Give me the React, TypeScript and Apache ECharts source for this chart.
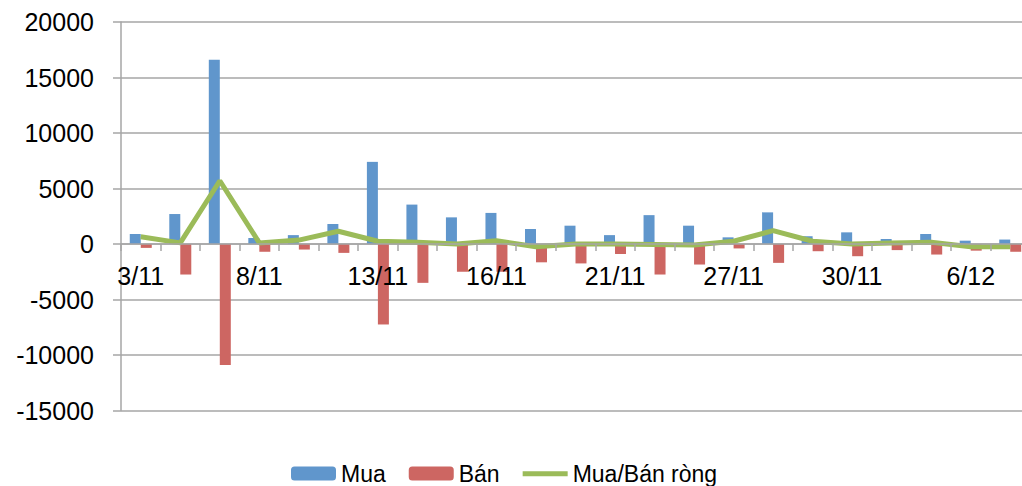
import React, { useEffect, useRef } from "react";
import * as echarts from "echarts";

const categories = ["3/11","6/11","7/11","8/11","9/11","10/11","13/11","14/11","15/11","16/11","17/11","20/11","21/11","22/11","23/11","27/11","28/11","29/11","30/11","1/12","4/12","6/12","7/12"];
const mua = [900, 2700, 16600, 550, 800, 1800, 7400, 3550, 2400, 2800, 1350, 1650, 800, 2600, 1650, 600, 2850, 700, 1050, 450, 900, 300, 400];
const ban = [-350, -2750, -10900, -700, -500, -800, -7250, -3500, -2500, -2500, -1650, -1750, -900, -2750, -1850, -400, -1700, -650, -1100, -550, -950, -600, -700];
const net = [650, 100, 5700, 100, 350, 1150, 250, 150, 0, 300, -250, 0, 0, -50, -100, 250, 1200, 250, 0, 100, 150, -250, -250];
const seriesNames = ["Mua", "Bán", "Mua/Bán ròng"];

const FONT = "'Liberation Sans', Arial, sans-serif";
const GRID = "#A6A6A6";
const LINE_ICON = "path://M0,0L0,0.01M0,4.5L49,4.5L49,10L0,10ZM0,14L0,13.99";

export default function App() {
  const ref = useRef<HTMLDivElement>(null);
  useEffect(() => {
    if (!ref.current) return;
    const chart = echarts.init(ref.current, null, { renderer: "svg" });
    chart.setOption({
      animation: false,
      textStyle: { fontFamily: FONT },
      grid: { left: 121, right: 10, top: 22, bottom: 75.5 },
      legend: {
        left: 286,
        top: 457,
        itemWidth: 45,
        itemHeight: 14,
        itemGap: 23,
        textStyle: { fontSize: 23, color: "#000", fontFamily: FONT },
        data: [
          { name: seriesNames[0] },
          { name: seriesNames[1] },
          { name: seriesNames[2], icon: LINE_ICON, itemStyle: { color: "#9BBB59" } },
        ],
      },
      xAxis: {
        type: "category",
        data: categories,
        position: "bottom",
        offset: -166.5,
        z: 10,
        axisLine: { onZero: false, lineStyle: { color: GRID, width: 1.5 } },
        axisTick: { show: true, interval: 0, length: 7, lineStyle: { color: GRID, width: 1.5 } },
        axisLabel: { interval: 2, fontSize: 25, color: "#000", margin: 19, fontFamily: FONT },
      },
      yAxis: {
        type: "value",
        min: -15000,
        max: 20000,
        interval: 5000,
        axisLine: { show: true, lineStyle: { color: GRID, width: 1.5 } },
        axisTick: { show: true, length: 8, lineStyle: { color: GRID, width: 1.5 } },
        axisLabel: {
          fontSize: 25,
          color: "#000",
          margin: 27,
          fontFamily: FONT,
          formatter: (v: number) => String(v),
        },
        splitLine: { lineStyle: { color: GRID, width: 1.5 } },
      },
      series: [
        {
          name: seriesNames[0],
          type: "bar",
          data: mua,
          barWidth: 11,
          barGap: "0%",
          itemStyle: { color: "#6096CC" },
        },
        {
          name: seriesNames[1],
          type: "bar",
          data: ban,
          barWidth: 11,
          barGap: "0%",
          itemStyle: { color: "#CD6662" },
        },
        {
          name: seriesNames[2],
          type: "line",
          data: net,
          symbol: "none",
          showSymbol: false,
          z: 5,
          lineStyle: { color: "#9BBB59", width: 5 },
          itemStyle: { color: "#9BBB59" },
        },
      ],
    });
    return () => chart.dispose();
  }, []);
  return (
    <div style={{ position: "absolute", left: 0, top: 0, width: 1022, height: 486, overflow: "hidden", background: "#fff" }}>
      <div ref={ref} style={{ width: 1040, height: 486 }} />
    </div>
  );
}
